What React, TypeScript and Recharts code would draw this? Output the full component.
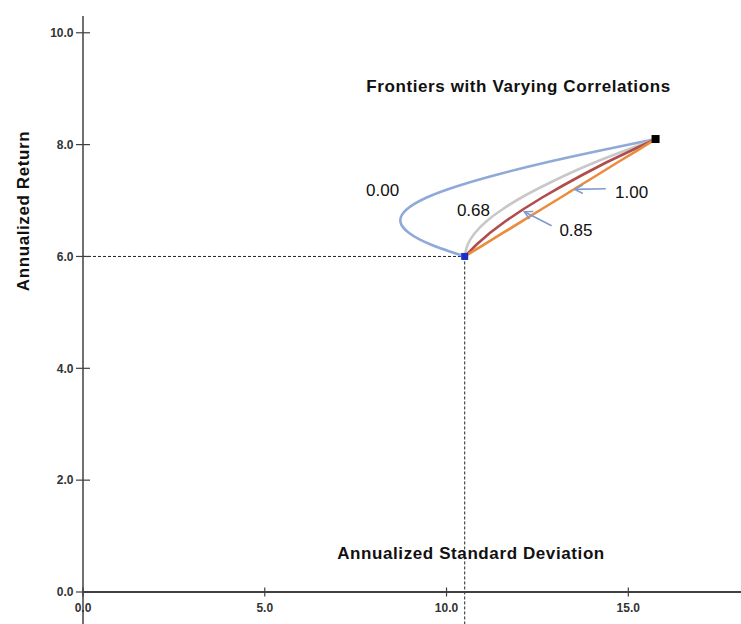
import React from "react";
import {
  ComposedChart,
  Line,
  Scatter,
  XAxis,
  YAxis,
  ReferenceLine,
  ReferenceDot,
} from "recharts";

// return of each mix along the frontier (weight of the riskier asset 0 → 1)
const RET = [6.0, 6.21, 6.42, 6.63, 6.84, 7.05, 7.26, 7.47, 7.68, 7.89, 8.1];
const SD_RHO_000 = [10.5, 9.58, 8.97, 8.73, 8.9, 9.44, 10.31, 11.43, 12.73, 14.2, 15.75];
const SD_RHO_068 = [10.5, 10.58, 10.78, 11.1, 11.53, 12.05, 12.66, 13.33, 14.07, 14.9, 15.75];
const SD_RHO_085 = [10.5, 10.82, 11.19, 11.62, 12.1, 12.62, 13.18, 13.77, 14.39, 15.07, 15.75];
const SD_RHO_100 = [10.5, 11.03, 11.55, 12.08, 12.6, 13.13, 13.65, 14.18, 14.7, 15.23, 15.75];

// the two assets
const ASSET_SD = [10.5, 15.75];
const ASSET_RET = [6.0, 8.1];

// correlation labels
const LABELS = ["0.00", "0.68", "0.85", "1.00"];
const LABEL_SD = [8.24, 10.74, 13.56, 15.09];
const LABEL_RET = [7.19, 6.83, 6.47, 7.16];

// arrows: tail -> head
const ARROW_FROM_SD = [14.38, 12.89];
const ARROW_FROM_RET = [7.21, 6.55];
const ARROW_TO_SD = [13.53, 12.14];
const ARROW_TO_RET = [7.2, 6.8];

const X_TICKS = [0, 5, 10, 15];
const Y_TICKS = [0, 2, 4, 6, 8, 10];

const FONT = "'Liberation Sans', Arial, sans-serif";
const AXIS = "#404040";

const toPoints = (sd: number[]) => sd.map((x, i) => ({ x, y: RET[i] }));

const series = [
  { key: "r000", data: toPoints(SD_RHO_000), color: "#8FA9D8", type: "natural" },
  { key: "r068", data: toPoints(SD_RHO_068), color: "#C8C8C8", type: "natural" },
  { key: "r085", data: toPoints(SD_RHO_085), color: "#B04C4C", type: "linear" },
  { key: "r100", data: toPoints(SD_RHO_100), color: "#EB8B3D", type: "linear" },
] as const;

const XTick = (props: any) => {
  const { x, y, payload } = props;
  return (
    <g>
      <line x1={x} x2={x} y1={y - 4.5} y2={y + 4.5} stroke={AXIS} strokeWidth={1.2} />
      <text x={x} y={y + 19.5} textAnchor="middle" fontSize={12} fontWeight="bold" fill="#333" fontFamily={FONT}>
        {Number(payload.value).toFixed(1)}
      </text>
    </g>
  );
};

const YTick = (props: any) => {
  const { x, y, payload } = props;
  return (
    <g>
      <line x1={x - 7} x2={x + 7} y1={y} y2={y} stroke={AXIS} strokeWidth={1.2} />
      <text x={x - 9.5} y={y + 4.3} textAnchor="end" fontSize={12} fontWeight="bold" fill="#333" fontFamily={FONT}>
        {Number(payload.value).toFixed(1)}
      </text>
    </g>
  );
};

const Arrow = (props: any) => {
  const { x1, y1, x2, y2 } = props;
  const a = Math.atan2(y2 - y1, x2 - x1);
  const len = 9;
  const spread = 0.5;
  const hx1 = x2 - len * Math.cos(a - spread);
  const hy1 = y2 - len * Math.sin(a - spread);
  const hx2 = x2 - len * Math.cos(a + spread);
  const hy2 = y2 - len * Math.sin(a + spread);
  return (
    <g stroke="#7F9CCF" strokeWidth={1.6} fill="none">
      <line x1={x1} y1={y1} x2={x2} y2={y2} />
      <polyline points={`${hx1},${hy1} ${x2},${y2} ${hx2},${hy2}`} />
    </g>
  );
};

const square = (fill: string, s: number) => (p: any) =>
  <rect x={p.cx - s / 2} y={p.cy - s / 2} width={s} height={s} fill={fill} />;

export default function App() {
  const assetA = [{ x: ASSET_SD[0], y: ASSET_RET[0] }];
  const assetB = [{ x: ASSET_SD[1], y: ASSET_RET[1] }];

  return (
    <div style={{ position: "absolute", left: 0, top: 0, width: 741, height: 624, background: "#fff" }}>
      <ComposedChart width={741} height={624} margin={{ top: 16, right: 0, bottom: 0, left: 0 }}>
        <XAxis
          type="number"
          dataKey="x"
          domain={[0, 18.1]}
          allowDataOverflow
          ticks={X_TICKS}
          height={32}
          tickLine={false}
          tickSize={0}
          tickMargin={0}
          tick={<XTick />}
          axisLine={{ stroke: AXIS, strokeWidth: 2 }}
        />
        <YAxis
          type="number"
          dataKey="y"
          domain={[0, 10.3]}
          allowDataOverflow
          ticks={Y_TICKS}
          width={83}
          tickLine={false}
          tickSize={0}
          tickMargin={0}
          tick={<YTick />}
          axisLine={{ stroke: AXIS, strokeWidth: 1.5 }}
        />
        {/* y axis runs on below the x axis */}
        <ReferenceLine
          segment={[{ x: 0, y: 0 }, { x: 0, y: -0.58 }]}
          stroke={AXIS}
          strokeWidth={1.5}
          ifOverflow="visible"
        />
        {/* guides to the lower-risk asset */}
        <ReferenceLine
          segment={[{ x: 0, y: ASSET_RET[0] }, { x: ASSET_SD[0], y: ASSET_RET[0] }]}
          stroke="#222"
          strokeDasharray="3 2"
          ifOverflow="visible"
        />
        <ReferenceLine
          segment={[{ x: ASSET_SD[0], y: ASSET_RET[0] }, { x: ASSET_SD[0], y: -0.58 }]}
          stroke="#222"
          strokeDasharray="3 2"
          ifOverflow="visible"
        />
        {series.map((s) => (
          <Line
            key={s.key}
            data={s.data as any}
            dataKey="y"
            type={s.type}
            stroke={s.color}
            strokeWidth={2.6}
            dot={false}
            activeDot={false}
            isAnimationActive={false}
          />
        ))}
        <Scatter data={assetA} shape={square("#1A2FC8", 7)} isAnimationActive={false} />
        <Scatter data={assetB} shape={square("#000", 8)} isAnimationActive={false} />
        {ARROW_FROM_SD.map((sd, i) => (
          <ReferenceLine
            key={`arrow-${i}`}
            segment={[{ x: sd, y: ARROW_FROM_RET[i] }, { x: ARROW_TO_SD[i], y: ARROW_TO_RET[i] }]}
            shape={<Arrow />}
            ifOverflow="visible"
          />
        ))}
        {LABELS.map((t, i) => (
          <ReferenceDot
            key={t}
            x={LABEL_SD[i]}
            y={LABEL_RET[i]}
            r={0}
            fill="none"
            stroke="none"
            ifOverflow="visible"
            label={{ value: t, position: "center", fill: "#111", fontSize: 17, fontFamily: FONT }}
          />
        ))}
      </ComposedChart>
      <svg
        width={741}
        height={624}
        style={{ position: "absolute", left: 0, top: 0, pointerEvents: "none" }}
        fontFamily={FONT}
        fontWeight="bold"
        fill="#111"
      >
        <text x={518.5} y={92} textAnchor="middle" fontSize={17} letterSpacing={0.6}>
          Frontiers with Varying Correlations
        </text>
        <text x={471} y={559} textAnchor="middle" fontSize={17} letterSpacing={0.6}>
          Annualized Standard Deviation
        </text>
        <text transform="translate(28.5,211) rotate(-90)" textAnchor="middle" fontSize={17} letterSpacing={0.6}>
          Annualized Return
        </text>
      </svg>
    </div>
  );
}
